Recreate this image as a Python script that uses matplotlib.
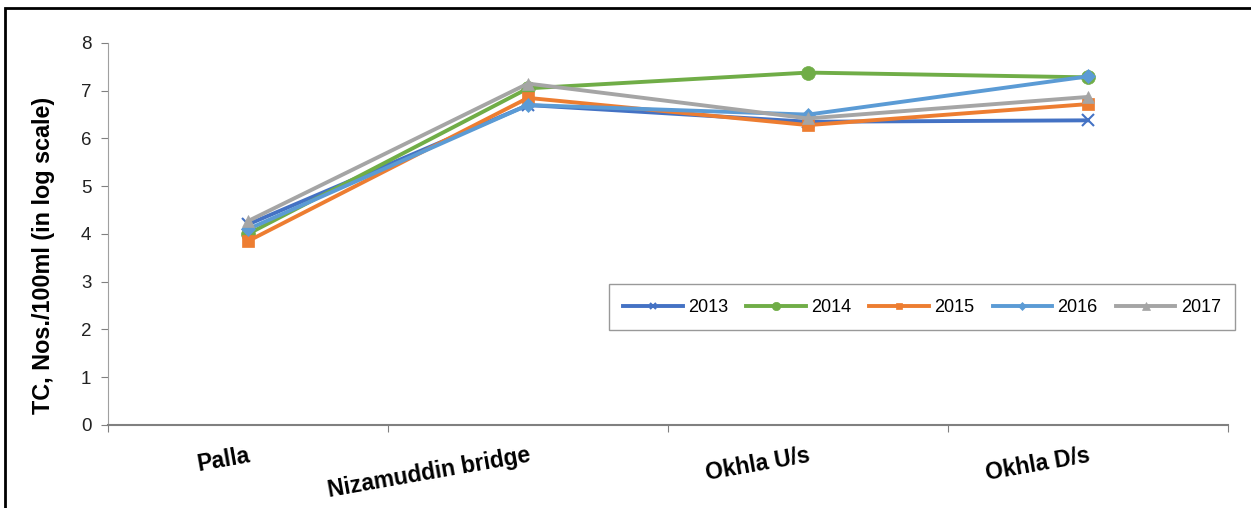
import matplotlib
matplotlib.use("Agg")
import matplotlib.pyplot as plt
from matplotlib.patches import Rectangle

plt.rcParams["font.family"] = ["Liberation Sans", "DejaVu Sans"]

sites = ["Palla", "Nizamuddin bridge", "Okhla U/s", "Okhla D/s"]
years = ["2013", "2014", "2015", "2016", "2017"]

tc_2013 = [4.20, 6.70, 6.35, 6.38]
tc_2014 = [4.00, 7.05, 7.38, 7.28]
tc_2015 = [3.85, 6.85, 6.28, 6.72]
tc_2016 = [4.10, 6.70, 6.50, 7.30]
tc_2017 = [4.27, 7.15, 6.42, 6.87]

series = [tc_2013, tc_2014, tc_2015, tc_2016, tc_2017]
colors = ["#4472C4", "#70AD47", "#ED7D31", "#5B9BD5", "#A5A5A5"]
markers = ["x", "o", "s", "D", "^"]
msizes = [8, 10, 8, 7, 9]

fig = plt.figure(figsize=(12.51, 5.08), dpi=100)
ax = fig.add_axes([0.0863, 0.1634, 0.8953, 0.752])

xs = [i + 0.5 for i in range(len(sites))]
for vals, yr, c, m, ms in zip(series, years, colors, markers, msizes):
    ax.plot(xs, vals, color=c, marker=m, markersize=ms, linewidth=2.8,
            markeredgewidth=1.5 if m == "x" else 0.5, label=yr)

ax.set_xlim(0, len(sites))
ax.set_ylim(0, 8)
ax.set_yticks(range(0, 9))
ax.set_xticks(range(0, len(sites) + 1))
ax.set_xticklabels([])
ax.tick_params(axis="x", length=5, color="#808080", direction="out")
ax.tick_params(axis="y", length=5, color="#808080", labelsize=13.5,
               labelcolor="#222222", pad=7)

for i, s in enumerate(sites):
    ax.text(xs[i], -0.4, s, rotation=10, rotation_mode="anchor",
            ha="right", va="top", fontsize=16.5, fontweight="bold",
            transform=ax.transData)

for side in ["top", "right"]:
    ax.spines[side].set_visible(False)
ax.spines["left"].set_color("#A0A0A0")
ax.spines["bottom"].set_color("#808080")
ax.spines["bottom"].set_linewidth(1.5)

ax.set_ylabel("TC, Nos./100ml (in log scale)", fontsize=16.8,
              fontweight="bold")
ax.yaxis.set_label_coords(-0.047, 0.445)

leg = fig.legend(loc="center", bbox_to_anchor=(0.737, 0.395), ncol=5,
                 fontsize=13, frameon=True, fancybox=False,
                 handlelength=3.3, columnspacing=1.0, handletextpad=0.3,
                 borderpad=0.8, markerscale=0.6)
leg.get_frame().set_edgecolor("#808080")
leg.get_frame().set_linewidth(1.0)

fig.patches.append(Rectangle((5 / 1251, -0.1), 1.2, 1.1 - 8 / 508,
                             transform=fig.transFigure, fill=False,
                             edgecolor="black", linewidth=2.0))

fig.savefig("out.png", dpi=100)
